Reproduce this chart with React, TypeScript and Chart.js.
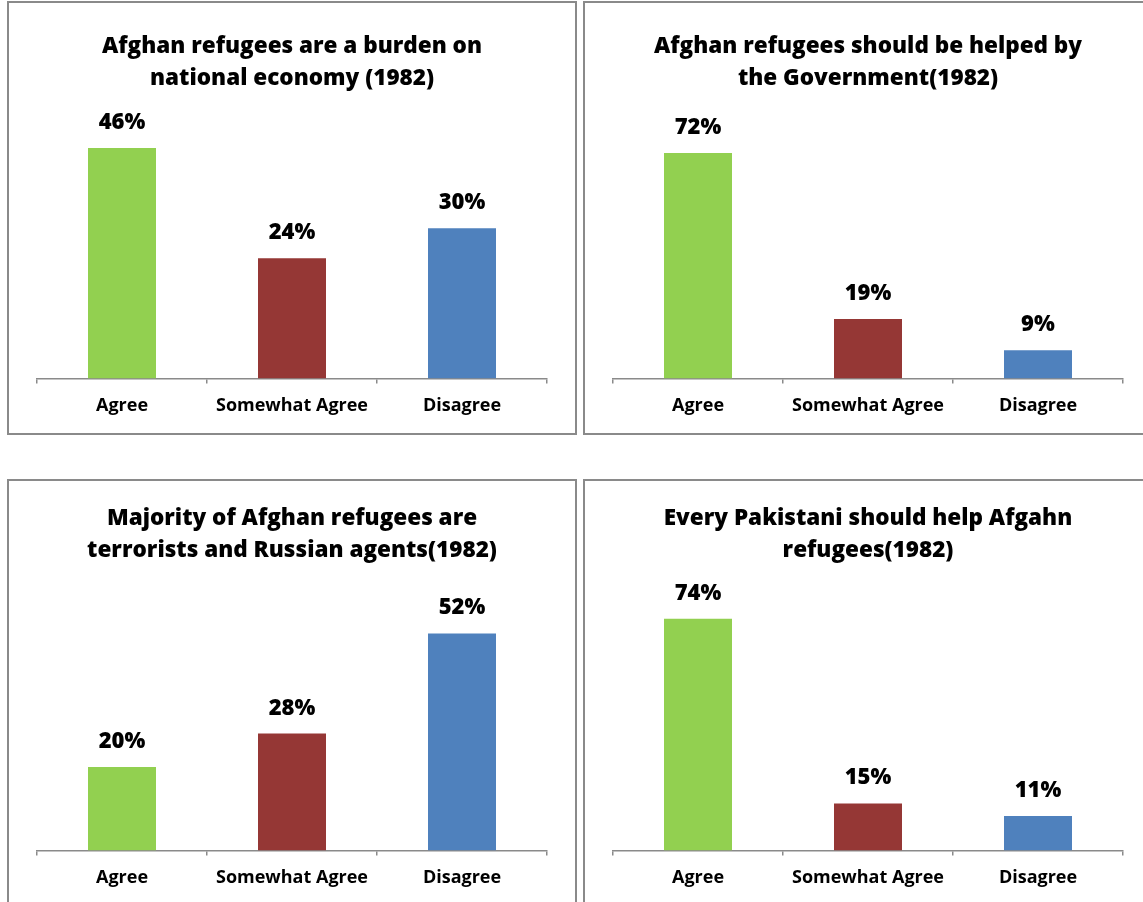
import React, { useEffect, useRef } from "react";
import { Chart, registerables } from "chart.js";

Chart.register(...registerables);

const categories = ["Agree", "Somewhat Agree", "Disagree"];
const burdenValues = [46, 24, 30];
const helpedByGovValues = [72, 19, 9];
const terroristsValues = [20, 28, 52];
const everyPakistaniValues = [74, 15, 11];
const barColors = ["#92D050", "#953735", "#4F81BD"];

const burdenTitle = ["Afghan refugees are a burden on", "national economy (1982)"];
const helpedByGovTitle = ["Afghan refugees should be helped by", "the Government(1982)"];
const terroristsTitle = ["Majority of Afghan refugees are", "terrorists and Russian agents(1982)"];
const everyPakistaniTitle = ["Every Pakistani should help Afgahn", "refugees(1982)"];

const axisMaxValues = [50, 80, 60, 80];

const FONT = "'Open Sans', 'Noto Sans', sans-serif";

const valueLabels = {
  id: "valueLabels",
  afterDatasetsDraw(chart: any) {
    const ctx = chart.ctx;
    const meta = chart.getDatasetMeta(0);
    const data = chart.data.datasets[0].data;
    ctx.save();
    ctx.font = `800 22px ${FONT}`;
    ctx.fillStyle = "#000";
    ctx.textAlign = "center";
    ctx.textBaseline = "alphabetic";
    meta.data.forEach((bar: any, i: number) => {
      ctx.fillText(`${data[i]}%`, bar.x, bar.y - 19);
    });
    ctx.restore();
  },
};

type PanelProps = {
  title: string[];
  values: number[];
  yMax: number;
  left: number;
  top: number;
  shift: number;
};

function Panel({ title, values, yMax, left, top, shift }: PanelProps) {
  const ref = useRef<HTMLCanvasElement | null>(null);
  useEffect(() => {
    if (!ref.current) return;
    const chart = new Chart(ref.current, {
      type: "bar",
      data: {
        labels: categories,
        datasets: [
          {
            data: values,
            backgroundColor: barColors,
            borderWidth: 0,
            categoryPercentage: 1,
            barPercentage: 0.4,
          },
        ],
      },
      options: {
        responsive: false,
        animation: false,
        layout: { padding: { left: 28, right: 28, top: 0, bottom: 4 + shift } },
        plugins: {
          legend: { display: false },
          tooltip: { enabled: false },
          title: {
            display: true,
            text: title,
            color: "#000",
            font: { family: FONT, size: 22.5, weight: "800", lineHeight: "32px" },
            padding: { top: 28 - shift, bottom: 33 },
          },
        },
        scales: {
          x: {
            grid: {
              display: true,
              drawOnChartArea: false,
              drawTicks: true,
              tickLength: 5,
              color: "#8a8a8a",
              lineWidth: 1.5,
              offset: true,
            },
            border: { display: true, color: "#8a8a8a", width: 1.5 },
            ticks: {
              color: "#000",
              font: { family: FONT, size: 18, weight: "700" },
              padding: 12,
            },
          },
          y: { display: false, min: 0, max: yMax },
        },
      },
      plugins: [valueLabels],
    });
    return () => chart.destroy();
  }, []);
  return (
    <div
      style={{
        position: "absolute",
        left,
        top,
        width: 570,
        height: 434,
        boxSizing: "border-box",
        border: "2px solid #8a8a8a",
        background: "#fff",
      }}
    >
      <canvas ref={ref} width={566} height={430} style={{ display: "block" }} />
    </div>
  );
}

export default function App() {
  return (
    <div
      style={{
        position: "fixed",
        left: 0,
        top: 0,
        width: 1143,
        height: 902,
        overflow: "hidden",
        background: "#fff",
      }}
    >
      <Panel title={burdenTitle} values={burdenValues} yMax={axisMaxValues[0]} left={7} top={1} shift={0} />
      <Panel title={helpedByGovTitle} values={helpedByGovValues} yMax={axisMaxValues[1]} left={583} top={1} shift={0} />
      <Panel title={terroristsTitle} values={terroristsValues} yMax={axisMaxValues[2]} left={7} top={479} shift={6} />
      <Panel title={everyPakistaniTitle} values={everyPakistaniValues} yMax={axisMaxValues[3]} left={583} top={479} shift={6} />
    </div>
  );
}
